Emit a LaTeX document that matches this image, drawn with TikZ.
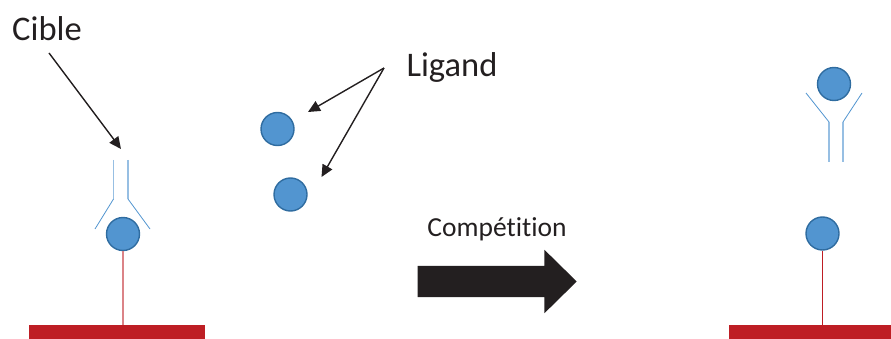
\documentclass[tikz,border=0pt]{standalone}
\usepackage{fontspec}
\setmainfont[Ligatures=CommonOff]{Carlito}
\usetikzlibrary{shapes,arrows.meta,positioning}
\definecolor{ballfill}{HTML}{5295D0}
\definecolor{balldraw}{HTML}{2F6CA0}
\definecolor{barred}{HTML}{BE1E24}
\definecolor{inkblack}{HTML}{231F20}
\tikzset{
  every node/.style={
    text=inkblack
  },
  ball/.style={
    shape=circle,
    fill=ballfill,
    draw=balldraw,
    line width=1.4pt,
    inner sep=0pt,
    minimum size=33pt
  },
  surface/.style={
    shape=rectangle,
    fill=barred,
    inner sep=0pt,
    minimum height=14pt
  },
  tether/.style={
    draw=barred,
    line width=1pt
  },
  paletether/.style={
    draw=barred!55,
    line width=1.2pt
  },
  stem/.style={
    draw=ballfill!60,
    line width=1.3pt
  },
  branch/.style={
    draw=ballfill,
    line width=0.8pt
  },
  pointer/.style={
    draw=inkblack,
    line width=1.4pt,
    -{Triangle[length=12pt,width=11pt]}
  },
  bigarrow/.style={
    shape=single arrow,
    fill=inkblack,
    inner xsep=0pt,
    inner ysep=15.5pt,
    single arrow head extend=16pt,
    single arrow tip angle=89,
    single arrow head indent=0pt,
    minimum height=159pt
  }
}
\begin{document}
\begin{tikzpicture}[x=1pt,y=-1pt]
  \useasboundingbox (0,0) rectangle (891,339);
  % labels
  \node [font=\fontsize{34.5}{40}\selectfont] (cible) at (47,28.5) {Cible};
  \node [font=\fontsize{34.5}{40}\selectfont] (ligand) at (452,67.5) {Ligand};
  \node [font=\fontsize{27.5}{32}\selectfont] (competition) at (497,229.5) {Compétition};
  % left side
  \node [surface,minimum width=176pt] (barleft) at (117,332) {};
  \node [ball] (boundleft) at (123,234) {};
  \draw [paletether] (boundleft) -- (boundleft |- barleft.north);
  \draw [stem] (113.5,160) -- (113.5,199);
  \draw [stem] (128,160) -- (128,199);
  \draw [branch] (113.5,199) -- (95,229);
  \draw [branch] (128,199) -- (150,229);
  % free ligands
  \node [ball] (ligandone) at (277.5,129) {};
  \node [ball] (ligandtwo) at (290.5,194.5) {};
  % pointers
  \coordinate (cibletail) at (49,53);
  \coordinate (cibletip) at (121,149);
  \coordinate (ligandtail) at (384,68);
  \coordinate (ligandtipone) at (308,112);
  \coordinate (ligandtiptwo) at (321.5,177);
  \draw [pointer] (cibletail) -- (cibletip);
  \draw [pointer] (ligandtail) -- (ligandtipone);
  \draw [pointer] (ligandtail) -- (ligandtiptwo);
  % competition arrow
  \node [bigarrow,anchor=tail] (compete) at (417.5,281.5) {};
  % right side
  \node [surface,minimum width=162pt] (barright) at (810,332) {};
  \node [ball] (boundright) at (822.5,233.5) {};
  \draw [tether] (boundright) -- (boundright |- barright.north);
  \node [ball] (ligandtop) at (834,84) {};
  \draw [stem] (829,162) -- (829,122);
  \draw [stem] (843,162) -- (843,122);
  \draw [branch] (829,122) -- (806,93);
  \draw [branch] (843,122) -- (862,93);
\end{tikzpicture}
\end{document}
